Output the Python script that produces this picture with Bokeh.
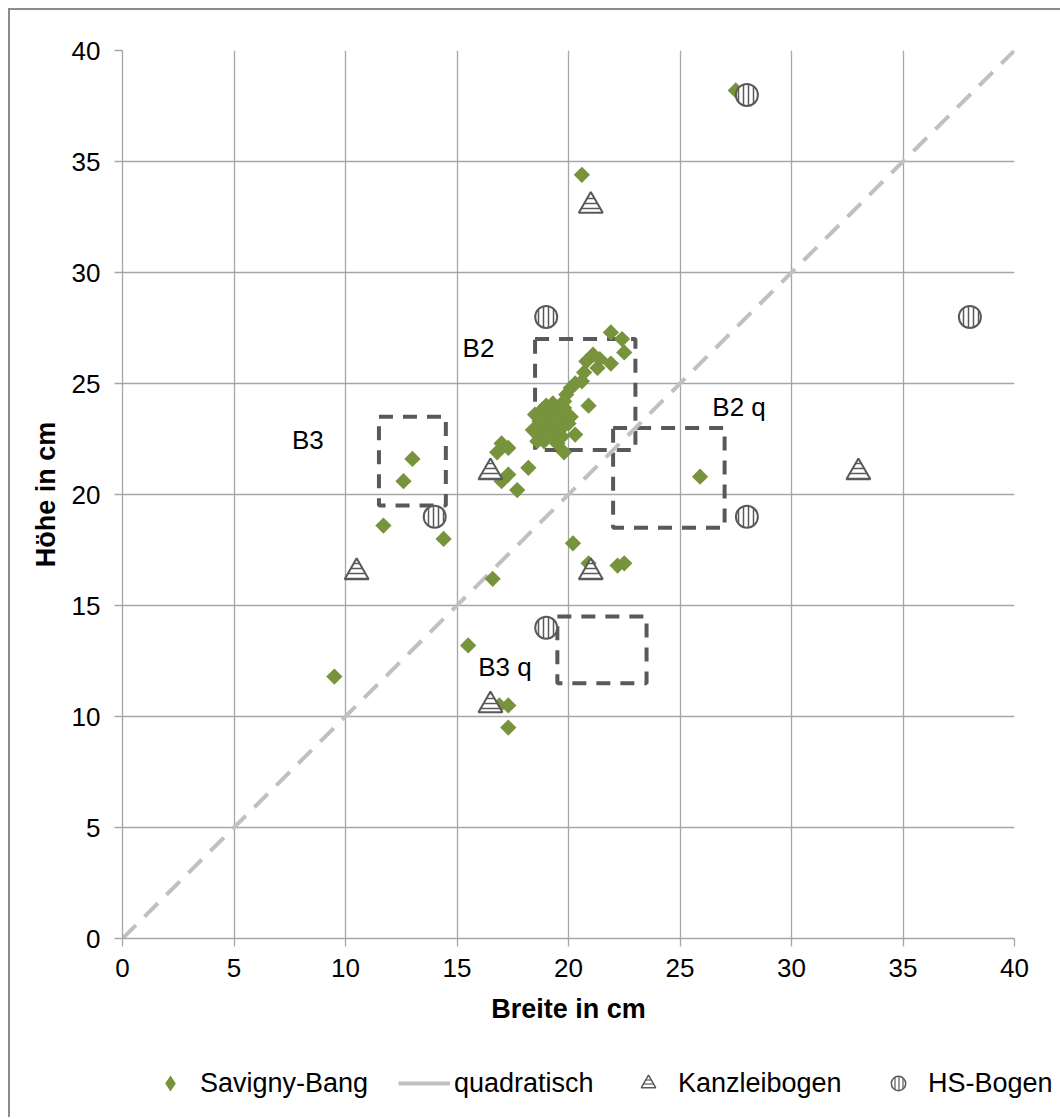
import math
from bokeh.plotting import figure
from bokeh.layouts import column
from bokeh.models import FixedTicker, Legend, LegendItem
from bokeh.core.properties import value
from bokeh.embed import file_html
from bokeh.resources import INLINE

# ---------------- data ----------------
savigny_x = [27.5, 20.6, 13.0, 12.6, 11.7, 14.4, 16.6, 15.5, 9.5, 16.9, 17.3, 17.3,
             20.2, 20.9, 22.2, 22.5, 25.9, 17.0, 17.3, 16.8, 18.2, 17.3, 17.0, 17.7,
             19.8, 20.3, 20.9,
             21.9, 22.4, 22.5, 21.1, 20.8, 21.9, 21.3, 20.7, 20.6, 20.1, 19.9, 21.4, 20.3,
             18.8, 19.0, 19.3, 19.6, 18.7, 19.0, 19.3, 19.6, 19.9, 18.8, 19.1, 19.4,
             19.7, 18.9, 19.3, 19.6, 20.0, 18.6, 19.5, 19.8,
             18.5, 18.9, 19.2, 19.5, 19.8, 20.1, 18.7, 19.1, 19.4, 19.7, 18.4, 18.6]
savigny_y = [38.2, 34.4, 21.6, 20.6, 18.6, 18.0, 16.2, 13.2, 11.8, 10.5, 10.5, 9.5,
             17.8, 16.9, 16.8, 16.9, 20.8, 22.3, 22.1, 21.9, 21.2, 20.9, 20.6, 20.2,
             21.9, 22.7, 24.0,
             27.3, 27.0, 26.4, 26.3, 26.0, 25.9, 25.7, 25.5, 25.1, 24.8, 24.5, 26.1, 25.0,
             23.8, 24.0, 24.1, 23.9, 23.3, 23.4, 23.5, 23.4, 23.6, 22.8, 22.9, 22.9,
             23.0, 22.4, 22.5, 22.7, 23.2, 23.0, 22.3, 24.2,
             23.6, 23.6, 23.8, 23.7, 23.9, 23.5, 23.1, 23.2, 23.3, 22.6, 22.9, 22.4]

kanzlei_x = [21.0, 16.5, 10.5, 21.0, 16.5, 33.0]
kanzlei_y = [33.0, 21.0, 16.5, 16.5, 10.5, 21.0]

hs_x = [28.0, 19.0, 38.0, 14.0, 28.0, 19.0]
hs_y = [38.0, 28.0, 28.0, 19.0, 19.0, 14.0]

quad_x = [0, 40]
quad_y = [0, 40]

box_labels = ["B2", "B3", "B2 q", "B3 q"]
box_left = [18.5, 11.5, 22.0, 19.5]
box_right = [23.0, 14.5, 27.0, 23.5]
box_bottom = [22.0, 19.5, 18.5, 11.5]
box_top = [27.0, 23.5, 23.0, 14.5]
label_x = [15.25, 7.6, 26.45, 15.95]
label_y = [26.6, 22.45, 23.95, 12.25]

ticks = [0, 5, 10, 15, 20, 25, 30, 35, 40]

series_names = ["Savigny-Bang", "quadratisch", "Kanzleibogen", "HS-Bogen"]

# ---------------- styles ----------------
FONT = "Liberation Sans"
GREEN = "#77933C"
DARK = "#595959"
GRID = "#a6a6a6"
DIAG = "#c0c0c0"

p = figure(width=1050, height=1032, x_range=(0, 40), y_range=(0, 40),
           output_backend="svg", toolbar_location=None,
           min_border_left=112, min_border_right=46,
           min_border_top=40, min_border_bottom=104)
p.outline_line_color = None
p.background_fill_color = "white"
p.border_fill_color = "white"

for ax in (p.xaxis[0], p.yaxis[0]):
    ax.ticker = FixedTicker(ticks=ticks)
    ax.axis_line_color = GRID
    ax.axis_line_width = 1.3
    ax.major_tick_line_color = GRID
    ax.major_tick_line_width = 1.3
    ax.major_tick_out = 8
    ax.major_tick_in = 0
    ax.minor_tick_line_color = None
    ax.major_label_text_font = FONT
    ax.major_label_text_font_size = "26px"
    ax.major_label_text_color = "black"
    ax.axis_label_text_font = FONT
    ax.axis_label_text_font_size = "27px"
    ax.axis_label_text_font_style = "bold"
    ax.axis_label_text_color = "black"

p.xaxis.axis_label = "Breite in cm"
p.yaxis.axis_label = "Höhe in cm"
p.xaxis.major_label_standoff = 12
p.yaxis.major_label_standoff = 14
p.xaxis.axis_label_standoff = 14
p.yaxis.axis_label_standoff = 8

p.xgrid.ticker = FixedTicker(ticks=ticks)
p.ygrid.ticker = FixedTicker(ticks=ticks)
p.grid.grid_line_color = GRID
p.grid.grid_line_width = 1.3

# dashed boxes
p.quad(left=box_left, right=box_right, bottom=box_bottom, top=box_top,
       fill_color=None, line_color=DARK, line_width=4, line_dash="14 10")

# box labels
p.text(x=label_x, y=label_y, text=box_labels, text_font=value(FONT),
       text_font_size="26px", text_color="black", text_baseline="middle",
       text_align="left")

# diagonal
p.line(quad_x, quad_y, line_color=DIAG, line_width=4, line_dash="19 12")

# series
p.scatter(savigny_x, savigny_y, marker="square", angle=math.pi / 4, size=11.5,
          fill_color=GREEN, line_color=None)
p.scatter(kanzlei_x, kanzlei_y, marker="triangle", size=24, fill_color="white",
          line_color=DARK, line_width=2, hatch_pattern="horizontal_line",
          hatch_color=DARK, hatch_scale=5, hatch_weight=1.5)
p.scatter(hs_x, hs_y, marker="circle", size=22, fill_color="white",
          line_color=DARK, line_width=2, hatch_pattern="vertical_line",
          hatch_color=DARK, hatch_scale=5, hatch_weight=1.5)

# ---------------- legend strip (ranges chosen so the data stays off-view) ----------------
p2 = figure(width=1050, height=75, x_range=(-100, -99), y_range=(-100, -99),
            output_backend="svg", toolbar_location=None,
            x_axis_location=None, y_axis_location=None,
            min_border_left=0, min_border_right=0,
            min_border_top=0, min_border_bottom=0)
p2.frame_align = False
p2.outline_line_color = None
p2.xgrid.visible = False
p2.ygrid.visible = False
p2.background_fill_color = "white"
p2.border_fill_color = "white"

leg_r = [
    p2.scatter(savigny_x, savigny_y, marker="diamond",
               fill_color=GREEN, line_color=None),
    p2.line(quad_x, quad_y, line_color=DIAG, line_width=4),
    p2.scatter(kanzlei_x, kanzlei_y, marker="triangle", fill_color="white",
               line_color=DARK, line_width=1.5, hatch_pattern="horizontal_line",
               hatch_color=DARK, hatch_scale=4, hatch_weight=1.2),
    p2.scatter(hs_x, hs_y, marker="circle", fill_color="white",
               line_color=DARK, line_width=1.5, hatch_pattern="vertical_line",
               hatch_color=DARK, hatch_scale=4, hatch_weight=1.2),
]
leg_vx = [134, 388, 612, 862]
leg_gh = [40, 26, 36, 36]
for name, r, vx, gh in zip(series_names, leg_r, leg_vx, leg_gh):
    h = max(gh, 31)
    lg = Legend(items=[LegendItem(label=name, renderers=[r])],
                location=(vx, 34 - h / 2),
                orientation="horizontal", glyph_width=52, glyph_height=gh,
                label_standoff=4, padding=0, margin=0, spacing=0,
                border_line_color=None, background_fill_alpha=0,
                label_text_font=FONT, label_text_font_size="27px",
                label_text_color="black")
    p2.add_layout(lg, "center")

layout = column(p, p2, spacing=0,
                styles={"margin-left": "8px", "margin-top": "8px",
                        "border-left": "2px solid #8c8c8c",
                        "border-top": "2px solid #8c8c8c"})

open("out.html", "w").write(file_html(layout, INLINE))
